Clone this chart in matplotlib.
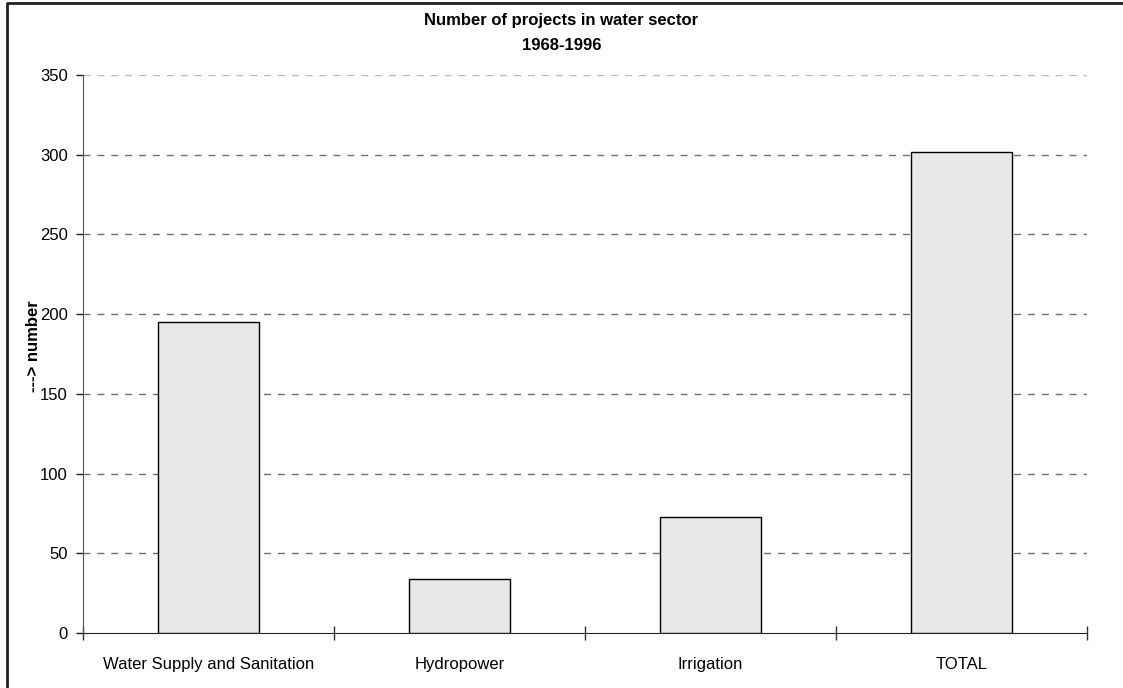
import numpy as np
import matplotlib.pyplot as plt
from matplotlib.lines import Line2D

plt.rcParams['font.family'] = ['Liberation Sans', 'DejaVu Sans']

# ---- data ----
categories = ['Water Supply and Sanitation', 'Hydropower', 'Irrigation', 'TOTAL']
counts = [195, 34, 73, 302]
yticks = [0, 50, 100, 150, 200, 250, 300, 350]

fig = plt.figure(figsize=(11.23, 6.88), dpi=100)
ax = fig.add_axes([0.0739, 0.0799, 0.8941, 0.8111])

pos = np.arange(len(categories)) + 0.5
ax.bar(pos, counts, width=0.4, color='#e8e8e8', edgecolor='black',
       linewidth=1.0, zorder=3)

# gridlines
for yv in yticks[1:]:
    c = '#b8b8b8' if yv == 350 else '#707070'
    ax.axhline(yv, color=c, linestyle=(0, (5, 5)), linewidth=1.0, zorder=1)

ax.set_xlim(0, len(categories))
ax.set_ylim(0, 350)
ax.set_yticks(yticks)
ax.set_xticks(np.arange(len(categories) + 1))
ax.set_xticklabels([])
ax.set_xticks(pos, minor=True)
ax.set_xticklabels(categories, minor=True, fontsize=12)
ax.tick_params(axis='x', which='minor', length=0, pad=17)
ax.tick_params(axis='x', which='major', direction='inout', length=10, width=1, color='#333333')
ax.tick_params(axis='y', direction='out', length=5, width=1, labelsize=12, color='#222222', pad=6)

for s in ['top', 'right']:
    ax.spines[s].set_visible(False)
ax.spines['left'].set_color('#555555')
ax.spines['bottom'].set_color('#222222')

fig.text(34 / 1123, 1 - 346 / 688, '---> number', rotation=90, fontsize=12,
         fontweight='bold', ha='center', va='center')
fig.text(0.5, 1 - 20 / 688, 'Number of projects in water sector', fontsize=12,
         fontweight='bold', ha='center', va='center')
fig.text(0.5, 1 - 45 / 688, '1968-1996', fontsize=12,
         fontweight='bold', ha='center', va='center')

# frame: only top and left edges are visible in the reference
fig.lines.append(Line2D([7 / 1123, 7 / 1123, 1], [0, 1 - 2.5 / 688, 1 - 2.5 / 688],
                        transform=fig.transFigure, color='#222222', linewidth=2))

fig.savefig('out.png', dpi=100, facecolor='white')
